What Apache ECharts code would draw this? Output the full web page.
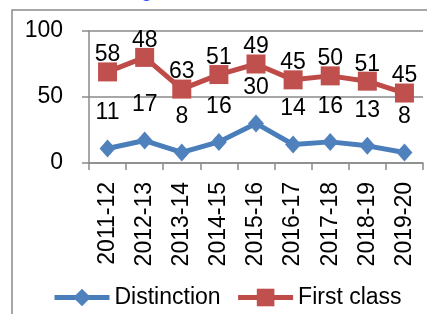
<!DOCTYPE html>
<html><head><meta charset="utf-8">
<script src="https://cdn.jsdelivr.net/npm/echarts@6/dist/echarts.min.js"></script>
<style>html,body{margin:0;padding:0;background:#fff}#c{width:427px;height:314px}</style>
</head><body><div id="c"></div>
<script>
const categories = ['2011-12','2012-13','2013-14','2014-15','2015-16','2016-17','2017-18','2018-19','2019-20'];
const distinction = [11,17,8,16,30,14,16,13,8];
const firstClassPlotted = [69,80,56,67,75,63,66,62,53];
const firstClassLabels = [58,48,63,51,49,45,50,51,45];
const yMin = 0, yMax = 100, yInterval = 50;

const FONT = 'Liberation Sans';
const chart = echarts.init(document.getElementById('c'));
chart.setOption({
  animation: false,
  backgroundColor: '#fff',
  textStyle: { fontFamily: FONT, color: '#000' },
  graphic: [
    { type: 'rect', silent: true, shape: { x: 12, y: 10, width: 700, height: 700 },
      style: { fill: 'none', stroke: '#8a8a8a', lineWidth: 1.5 } },
    { type: 'text', silent: true, x: 141, y: -19,
      style: { text: 'g', fill: '#2a4cff', font: '20px "Liberation Sans"' } }
  ],
  grid: { left: 89, right: 4, top: 31, bottom: 151, containLabel: false },
  legend: {
    left: 47, top: 281, itemWidth: 55, itemHeight: 22, itemGap: 15,
    lineStyle: { width: 5 },
    textStyle: { fontFamily: FONT, fontSize: 23, color: '#000' },
    data: ['Distinction', 'First class']
  },
  xAxis: {
    type: 'category', data: categories, boundaryGap: true,
    axisLine: { lineStyle: { color: '#8a8a8a', width: 1.5 } },
    axisTick: { show: true, length: 7, alignWithLabel: false, lineStyle: { color: '#8a8a8a', width: 1.5 } },
    axisLabel: { rotate: 90, margin: 19, fontFamily: FONT, fontSize: 23, color: '#000' },
    splitLine: { show: false }
  },
  yAxis: {
    type: 'value', min: yMin, max: yMax, interval: yInterval,
    axisLine: { show: true, lineStyle: { color: '#8a8a8a', width: 1.5 } },
    axisTick: { show: true, length: 7, lineStyle: { color: '#8a8a8a', width: 1.5 } },
    axisLabel: { margin: 26, fontFamily: FONT, fontSize: 23, color: '#000' },
    splitLine: { show: true, lineStyle: { color: '#8a8a8a', width: 1.5 } }
  },
  series: [
    {
      name: 'Distinction', type: 'line', data: distinction,
      symbol: 'diamond', symbolSize: [16, 18],
      itemStyle: { color: '#4F81BD' },
      lineStyle: { color: '#4A7EBB', width: 5 },
      label: { show: true, position: 'top', distance: 15, fontFamily: FONT, fontSize: 23, color: '#000' }
    },
    {
      name: 'First class', type: 'line', data: firstClassPlotted,
      symbol: 'rect', symbolSize: [19, 19],
      itemStyle: { color: '#C0504D' },
      lineStyle: { color: '#BE4B48', width: 5 },
      label: { show: true, position: 'top', distance: -4, fontFamily: FONT, fontSize: 23, color: '#000',
        formatter: p => String(firstClassLabels[p.dataIndex]) }
    }
  ]
});
</script></body></html>
